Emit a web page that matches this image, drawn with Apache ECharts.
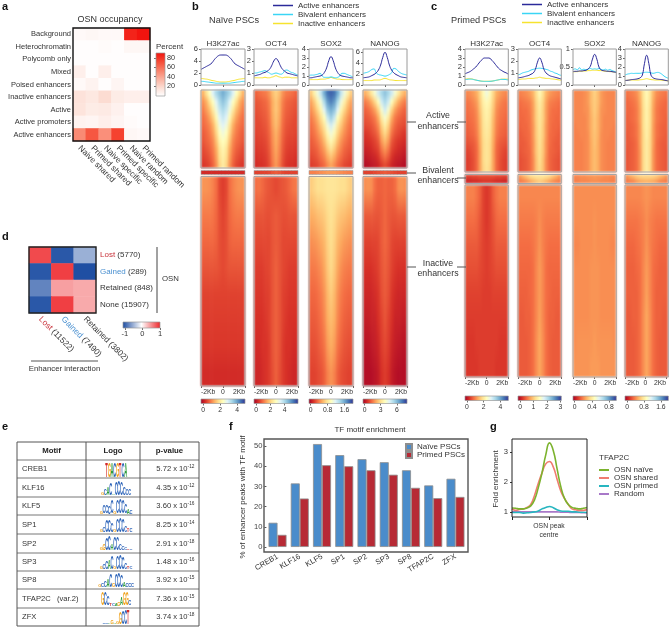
<!DOCTYPE html>
<html><head><meta charset="utf-8">
<style>html,body{margin:0;padding:0;background:#fff}#c{width:669px;height:627px;filter:blur(.3px)}
#c canvas[data-zr-dom-id="zr_1"]{filter:blur(.8px)}</style>
<script src="https://cdn.jsdelivr.net/npm/echarts@6/dist/echarts.min.js"></script>
</head><body><div id="c"></div>
<script>
const FONT='"Liberation Sans",Arial,sans-serif', INK='#333';
// ---- panel a
const occRows=['Background','Heterochromatin','Polycomb only','Mixed','Poised enhancers','Inactive enhancers','Active','Active promoters','Active enhancers'];
const occCols=['Naive shared','Primed shared','Naive specific','Primed specific','Naive random','Primed random'];
const occVals=[[3,4,3,3,85,92],[1,1,2,1,4,4],[1,1,1,1,1,1],[8,1,8,1,1,1],[3,6,1,5,1,1],[15,12,18,10,8,8],[14,10,11,7,1,1],[6,5,8,5,2,1],[50,68,48,75,4,3]];
const occTicks=[20,40,60,80];
// ---- panel d
const dRows=['{l|Lost} (5770)','{g|Gained} (289)','Retained (848)','None (15907)'];
const dCols=['{l|Lost} (11522)','{g|Gained} (7490)','Retained (3802)'];
const dVals=[[0.85,-0.95,-0.45],[-0.95,0.9,-1],[-0.7,0.45,0.4],[-0.95,0.9,0.4]];
// ---- panel e
const motifs=['CREB1','KLF16','KLF5','SP1','SP2','SP3','SP8','TFAP2C   (var.2)','ZFX'];
const pMant=['5.72','4.35','3.60','8.25','2.91','1.48','3.92','7.36','3.74'];
const pExp=['-12','-12','-16','-14','-18','-16','-15','-15','-18'];
const logoSeq=['TGACGTCA','GCACACCCCCC','GCCCCGCCCCAC','GCCCCGCCCCTC','GGCCACCCCCTC','GCCACGCCCCTC','GCCACGCCCACCC','GCCTCAGAGGC','CCAGAGGCCT'];
const logoH=[[1,1,1,1,1,1,1,1],[.2,.45,.6,.85,.1,.9,1,.95,.6,.5,.45],[.15,.6,.6,.55,.95,.2,.9,1,.95,.7,.4,.3],[.15,.35,.85,.85,.7,.2,.95,1,.9,.5,.3,.25],[.2,.5,.8,1,.5,.95,.9,.5,.3,.15,.12,.1],[.15,.4,.6,.7,.95,.2,.95,1,.8,.45,.2,.15],[.15,.3,.5,.6,.9,.3,.95,1,.85,.4,.25,.3,.25],[.9,.95,.7,.2,.15,.15,.3,.6,.9,.95,.4],[.05,.1,.1,.3,.1,.15,.8,.9,1,1]];
// ---- panel f
const tfNames=['CREB1','KLF16','KLF5','SP1','SP2','SP3','SP8','TFAP2C','ZFX'];
const tfNaive=[12,31.5,51,45.5,43.5,42,38,30.5,33.8];
const tfPrimed=[6,24,40.5,40,38,35.8,29.3,24.2,24.8];
const fTicks=[0,10,20,30,40,50];
// ---- panel g
const gNaive=[1.13,1.12,1.1,1.1,1.13,1.2,1.4,1.8,2.3,2.9,3.3,3.05,2.45,1.85,1.45,1.25,1.15,1.12,1.1,1.12,1.15];
const gShared=[1.1,1.05,1.08,1.1,1.15,1.25,1.55,1.95,2.3,2.6,2.68,2.5,2.1,1.7,1.45,1.25,1.1,1.07,1.05,1.05,1.08];
const gPrimed=[.98,.98,.98,.96,.97,.98,1,1.03,1.1,1.15,1.18,1.14,1.07,1.03,1.02,1.02,1,1,.99,.99,.98];
const gRandom=[1,1,1,1,1,1,1,1,1,1,1,1,1,.99,.99,.99,.98,.98,.98,.97,.97];
// ---- profile lines: [active, bivalent, inactive]
const profNaiveH3=[[2.6,2.8,3,3.2,3.4,3.7,4.2,4.6,4.9,5,5,5,4.9,4.6,4.2,3.7,3.4,3.2,3,2.8,2.6],[.6,.6,.55,.5,.45,.4,.35,.3,.3,.3,.3,.3,.3,.3,.35,.4,.45,.5,.55,.6,.6],[1.1,1.05,1,.95,.85,.75,.7,.6,.55,.5,.5,.5,.55,.6,.7,.75,.85,.95,1,1.05,1.1]];
const profNaiveOCT4=[[.75,.8,.85,.9,1,1.05,1.15,1.3,1.6,2,2.2,2,1.6,1.3,1.15,1,.95,.9,.85,.8,.75],[1,1,1.05,1.1,1.15,1.2,1.1,1,.9,.95,1,.95,.9,.95,1.2,1.25,1.15,1.05,1,.9,.85],[.6,.6,.6,.6,.6,.65,.6,.6,.65,.7,.78,.7,.65,.6,.65,.65,.65,.6,.6,.6,.6]];
const profNaiveSOX2=[[.8,.8,.85,.9,.95,1,1.1,1.4,1.9,2.7,3.15,2.7,1.9,1.4,1.1,1,.95,.9,.85,.8,.8],[1.05,1.1,1.1,1.15,1.2,1.3,1,.85,.85,.85,.9,.85,.8,.85,1,1.3,1.3,1.2,1.1,1,.9],[.6,.6,.6,.6,.6,.65,.65,.65,.7,.75,.85,.75,.7,.65,.65,.6,.6,.6,.6,.6,.6]];
const profNaiveNANOG=[[1.3,1.35,1.4,1.5,1.7,1.9,2.2,2.7,3.6,5,5.9,5,3.6,2.7,2.2,1.9,1.7,1.5,1.4,1.35,1.3],[2.1,2.2,2.3,2.5,2.8,2.9,2.2,1.9,1.8,1.7,1.6,1.7,1.9,2.2,3,2.9,2.5,2.2,2,1.9,1.8],[.8,.8,.8,.8,.8,.9,.9,.9,.95,1.1,1.2,1.1,.95,.9,.85,.8,.8,.8,.8,.8,.8]];
const profPrimedH3=[[1.25,1.35,1.45,1.6,1.8,2,2.3,2.6,2.85,3,3,3,2.85,2.6,2.3,2,1.75,1.6,1.45,1.35,1.2],[.6,.62,.65,.65,.6,.55,.5,.45,.42,.4,.4,.4,.42,.45,.5,.55,.6,.62,.62,.6,.55],[.65,.68,.7,.68,.62,.55,.5,.45,.42,.42,.42,.42,.42,.45,.5,.55,.6,.65,.65,.65,.65]];
const profPrimedOCT4=[[.6,.62,.65,.7,.75,.8,.9,1,1.3,1.9,2.25,1.9,1.3,1,.85,.75,.7,.65,.6,.55,.5],[.85,.9,1,1.05,1.1,1.15,1.25,1.3,1.35,1.38,1.4,1.38,1.35,1.3,1.25,1.15,1.1,1,.95,.85,.8],[.45,.47,.5,.5,.52,.55,.55,.55,.58,.6,.65,.6,.58,.55,.55,.52,.5,.48,.45,.42,.4]];
const profPrimedSOX2=[[.37,.38,.38,.39,.39,.4,.41,.45,.52,.72,.85,.72,.5,.42,.4,.39,.38,.38,.37,.36,.35],[.42,.45,.42,.48,.42,.44,.42,.44,.46,.44,.45,.44,.46,.43,.42,.44,.41,.43,.4,.38,.36],[.36,.37,.37,.38,.38,.39,.39,.4,.4,.41,.41,.41,.4,.4,.39,.38,.38,.37,.37,.36,.35]];
const profPrimedNANOG=[[.5,.52,.55,.6,.62,.65,.7,.8,1.1,2.4,3.3,2.4,1.1,.8,.7,.65,.62,.6,.55,.5,.45],[1.1,1.2,1.25,1.3,1.28,1.3,1.3,1.3,1.35,1.4,1.42,1.4,1.35,1.3,1.35,1.4,1.35,1.2,1,.85,.75],[.5,.52,.55,.55,.55,.55,.55,.58,.6,.65,.7,.65,.6,.58,.55,.55,.55,.52,.5,.48,.45]];
const hNaiveH3Act=[[3,4,5,6,7,7.5,8,7.5,7,6,5,4,3],[2.5,3,4,5,6,7,7.5,7,6,5,4,3,2.5],[2.2,2.7,3.3,4.3,5.5,6.5,7,6.5,5.5,4.3,3.3,2.7,2.2],[2,2.3,2.8,3.6,4.8,6,6.5,6,4.8,3.6,2.8,2.3,2],[1.9,2.1,2.4,3,4.2,5.5,6,5.5,4.2,3,2.4,2.1,1.9],[1.7,1.9,2.2,2.7,3.8,5,5.5,5,3.8,2.7,2.2,1.9,1.7],[1.6,1.8,2,2.4,3.4,4.6,5,4.6,3.4,2.4,2,1.8,1.6],[1.4,1.6,1.8,2.2,3,4.2,4.7,4.2,3,2.2,1.8,1.6,1.4],[1.3,1.4,1.6,2,2.8,4,4.5,4,2.8,2,1.6,1.4,1.3],[1.1,1.2,1.4,1.8,2.6,3.8,4.4,3.8,2.6,1.8,1.4,1.2,1.1]];
const hNaiveOCT4Act=[[1.8,2,2.1,2.2,2.6,3.3,3.7,3.3,2.6,2.2,2.1,2,1.8],[1.6,1.7,1.8,1.9,2.3,3,3.5,3,2.3,1.9,1.8,1.7,1.6],[1.5,1.6,1.7,1.8,2.2,3,3.5,3,2.2,1.8,1.7,1.6,1.5],[1.4,1.5,1.6,1.7,2.1,2.9,3.4,2.9,2.1,1.7,1.6,1.5,1.4],[1.4,1.4,1.5,1.6,2,2.8,3.3,2.8,2,1.6,1.5,1.4,1.4],[1.3,1.4,1.4,1.5,1.9,2.6,3.1,2.6,1.9,1.5,1.4,1.4,1.3],[1.2,1.3,1.3,1.4,1.8,2.5,3,2.5,1.8,1.4,1.3,1.3,1.2],[1.1,1.2,1.2,1.3,1.7,2.4,2.9,2.4,1.7,1.3,1.2,1.2,1.1],[1,1.1,1.1,1.2,1.6,2.3,2.8,2.3,1.6,1.2,1.1,1.1,1],[.9,1,1,1.1,1.5,2.2,2.7,2.2,1.5,1.1,1,1,.9]];
const hNaiveSOX2Act=[[3.5,4.5,5.5,6.5,8,9,9.3,9,8,6.5,5.5,4.5,3.5],[2.8,3.5,4.5,5.5,7,8.3,8.8,8.3,7,5.5,4.5,3.5,2.8],[2.5,3,3.8,4.7,6,7.5,8,7.5,6,4.7,3.8,3,2.5],[2.2,2.6,3.2,4,5,6.5,7.3,6.5,5,4,3.2,2.6,2.2],[2,2.3,2.8,3.5,4.3,5.5,6.3,5.5,4.3,3.5,2.8,2.3,2],[1.9,2.1,2.5,3,3.8,4.8,5.5,4.8,3.8,3,2.5,2.1,1.9],[1.7,1.9,2.2,2.6,3.3,4.2,4.8,4.2,3.3,2.6,2.2,1.9,1.7],[1.6,1.7,1.9,2.3,2.8,3.6,4.2,3.6,2.8,2.3,1.9,1.7,1.6],[1.4,1.5,1.7,2,2.4,3,3.5,3,2.4,2,1.7,1.5,1.4],[1.2,1.3,1.4,1.7,2,2.5,2.9,2.5,2,1.7,1.4,1.3,1.2]];
const hNaiveNANOGAct=[[3,3.5,4.3,5.3,6.3,7,7.5,7,6.3,5.3,4.3,3.5,3],[2.2,2.5,3,3.8,5,6.3,7,6.3,5,3.8,3,2.5,2.2],[1.8,2,2.3,2.8,3.8,5.3,6.3,5.3,3.8,2.8,2.3,2,1.8],[1.6,1.7,1.9,2.2,3,4.4,5.3,4.4,3,2.2,1.9,1.7,1.6],[1.4,1.5,1.6,1.9,2.5,3.7,4.5,3.7,2.5,1.9,1.6,1.5,1.4],[1.1,1.2,1.4,1.6,2.1,3.2,3.9,3.2,2.1,1.6,1.4,1.2,1.1],[.9,1,1.1,1.3,1.7,2.7,3.3,2.7,1.7,1.3,1.1,1,.9],[.7,.8,.9,1.1,1.4,2.2,2.7,2.2,1.4,1.1,.9,.8,.7],[.5,.6,.7,.8,1.1,1.7,2.1,1.7,1.1,.8,.7,.6,.5],[.3,.4,.5,.6,.8,1.2,1.5,1.2,.8,.6,.5,.4,.3]];
const hNaiveH3Biv=[[.9,.9,.9,.9,.9,.9,.9,.9,.9,.9,.9,.9,.9]];
const hNaiveOCT4Biv=[[1.3,1.3,1.3,1.3,1.4,1.6,1.7,1.6,1.4,1.3,1.3,1.3,1.3]];
const hNaiveSOX2Biv=[[2.3,2.3,2.4,2.5,2.6,2.7,2.7,2.7,2.6,2.5,2.4,2.3,2.3]];
const hNaiveNANOGBiv=[[1.3,1.3,1.3,1.4,1.5,1.6,1.7,1.6,1.5,1.4,1.3,1.3,1.3]];
const hNaiveH3In=[[2.6,2.6,2.5,2.3,2,1.4,1.2,1.4,2,2.3,2.5,2.6,2.6],[2.2,2.2,2.2,2.1,1.9,1.5,1.3,1.5,1.9,2.1,2.2,2.2,2.2],[1.9,1.9,1.9,1.9,1.8,1.5,1.4,1.5,1.8,1.9,1.9,1.9,1.9],[1.6,1.6,1.6,1.6,1.6,1.5,1.4,1.5,1.6,1.6,1.6,1.6,1.6],[1.3,1.3,1.3,1.3,1.3,1.3,1.3,1.3,1.3,1.3,1.3,1.3,1.3],[1.2,1.2,1.2,1.2,1.2,1.2,1.2,1.2,1.2,1.2,1.2,1.2,1.2],[1.1,1.1,1.1,1.1,1.1,1.1,1.1,1.1,1.1,1.1,1.1,1.1,1.1],[.9,.9,.9,.9,.9,.9,.9,.9,.9,.9,.9,.9,.9]];
const hNaiveOCT4In=[[2,2.1,1.9,1.7,1.6,1.5,1.4,1.5,1.6,1.7,1.9,2.1,2.2],[1.6,1.6,1.6,1.5,1.5,1.6,1.7,1.6,1.5,1.5,1.6,1.6,1.6],[1.4,1.4,1.4,1.4,1.4,1.6,1.7,1.6,1.4,1.4,1.4,1.4,1.4],[1.2,1.2,1.2,1.3,1.4,1.6,1.8,1.6,1.4,1.3,1.2,1.2,1.2],[1.1,1.1,1.1,1.2,1.3,1.6,1.8,1.6,1.3,1.2,1.1,1.1,1.1],[1,1,1,1.1,1.3,1.6,1.8,1.6,1.3,1.1,1,1,1],[.9,.9,1,1,1.2,1.6,1.8,1.6,1.2,1,1,.9,.9],[.8,.8,.9,1,1.2,1.5,1.8,1.5,1.2,1,.9,.8,.8]];
const hNaiveSOX2In=[[3.6,3.8,4,4,4.1,4.2,4.2,4.2,4.1,4,4,3.8,3.6],[3,3.1,3.3,3.4,3.6,3.9,4.1,3.9,3.6,3.4,3.3,3.1,3],[2.5,2.6,2.7,2.9,3.2,3.7,4,3.7,3.2,2.9,2.7,2.6,2.5],[2.2,2.2,2.3,2.5,2.9,3.5,3.9,3.5,2.9,2.5,2.3,2.2,2.2],[1.9,1.9,2,2.2,2.6,3.2,3.6,3.2,2.6,2.2,2,1.9,1.9],[1.7,1.7,1.8,2,2.4,3,3.3,3,2.4,2,1.8,1.7,1.7],[1.5,1.5,1.6,1.8,2.1,2.7,3,2.7,2.1,1.8,1.6,1.5,1.5],[1.3,1.3,1.4,1.5,1.8,2.3,2.6,2.3,1.8,1.5,1.4,1.3,1.3]];
const hNaiveNANOGIn=[[2.5,2.6,2.5,2,1.8,1.8,1.9,1.8,1.8,2,2.5,2.6,2.5],[1.7,1.7,1.7,1.6,1.6,1.7,1.9,1.7,1.6,1.6,1.7,1.7,1.7],[1.3,1.3,1.3,1.3,1.4,1.7,1.9,1.7,1.4,1.3,1.3,1.3,1.3],[1,1,1,1.1,1.3,1.6,1.8,1.6,1.3,1.1,1,1,1],[.8,.8,.8,.9,1.1,1.5,1.7,1.5,1.1,.9,.8,.8,.8],[.6,.6,.7,.7,1,1.3,1.6,1.3,1,.7,.7,.6,.6],[.4,.4,.5,.6,.8,1.2,1.4,1.2,.8,.6,.5,.4,.4],[.3,.3,.3,.4,.6,1,1.2,1,.6,.4,.3,.3,.3]];
const hPrimedH3Act=[[2.4,2.5,2.7,3,3.8,4.8,5.5,4.8,3.8,3,2.7,2.5,2.4],[2.1,2.2,2.4,2.7,3.6,4.5,4.8,4.5,3.6,2.7,2.4,2.2,2.1],[2,2.1,2.2,2.5,3.4,4.3,4.6,4.3,3.4,2.5,2.2,2.1,2],[1.9,2,2.1,2.4,3.2,4.2,4.5,4.2,3.2,2.4,2.1,2,1.9],[1.8,1.9,2,2.3,3.1,4.1,4.4,4.1,3.1,2.3,2,1.9,1.8],[1.7,1.8,1.9,2.2,3,4,4.3,4,3,2.2,1.9,1.8,1.7],[1.5,1.6,1.7,2,2.9,3.9,4.2,3.9,2.9,2,1.7,1.6,1.5],[1.3,1.4,1.6,1.9,2.8,3.9,4.2,3.9,2.8,1.9,1.6,1.4,1.3],[1.2,1.3,1.5,1.9,2.8,3.9,4.2,3.9,2.8,1.9,1.5,1.3,1.2],[1.2,1.3,1.5,1.9,2.8,3.8,4.1,3.8,2.8,1.9,1.5,1.3,1.2]];
const hPrimedOCT4Act=[[2.3,2.4,2.5,2.7,3.1,4,4.8,4,3.1,2.7,2.5,2.4,2.3],[2,2.1,2.2,2.3,2.8,3.8,4.4,3.8,2.8,2.3,2.2,2.1,2],[1.9,2,2,2.2,2.7,3.7,4.3,3.7,2.7,2.2,2,2,1.9],[1.9,1.9,2,2.1,2.7,3.7,4.2,3.7,2.7,2.1,2,1.9,1.9],[1.8,1.9,1.9,2.1,2.6,3.6,4.2,3.6,2.6,2.1,1.9,1.9,1.8],[1.7,1.8,1.9,2,2.6,3.6,4.1,3.6,2.6,2,1.9,1.8,1.7],[1.7,1.7,1.8,2,2.5,3.5,4.1,3.5,2.5,2,1.8,1.7,1.7],[1.6,1.7,1.8,1.9,2.5,3.5,4,3.5,2.5,1.9,1.8,1.7,1.6],[1.5,1.6,1.7,1.9,2.4,3.4,4,3.4,2.4,1.9,1.7,1.6,1.5],[1.5,1.6,1.7,1.9,2.4,3.4,3.9,3.4,2.4,1.9,1.7,1.6,1.5]];
const hPrimedSOX2Act=[[2.4,2.4,2.4,2.5,2.7,3.3,3.7,3.3,2.7,2.5,2.4,2.4,2.4],[2.4,2.4,2.4,2.5,2.7,3.3,3.6,3.3,2.7,2.5,2.4,2.4,2.4],[2.4,2.4,2.4,2.5,2.6,3.2,3.6,3.2,2.6,2.5,2.4,2.4,2.4],[2.4,2.4,2.4,2.4,2.6,3.1,3.5,3.1,2.6,2.4,2.4,2.4,2.4],[2.3,2.4,2.4,2.4,2.6,3.1,3.5,3.1,2.6,2.4,2.4,2.4,2.3],[2.3,2.3,2.4,2.4,2.5,3.1,3.4,3.1,2.5,2.4,2.4,2.3,2.3],[2.3,2.3,2.3,2.4,2.5,3,3.4,3,2.5,2.4,2.3,2.3,2.3],[2.3,2.3,2.3,2.4,2.5,3,3.3,3,2.5,2.4,2.3,2.3,2.3],[2.3,2.3,2.3,2.4,2.5,3,3.3,3,2.5,2.4,2.3,2.3,2.3],[2.3,2.3,2.3,2.4,2.5,3,3.3,3,2.5,2.4,2.3,2.3,2.3]];
const hPrimedNANOGAct=[[2.1,2.2,2.3,2.5,3.1,4.2,4.8,4.2,3.1,2.5,2.3,2.2,2.1],[1.9,2,2.1,2.3,2.9,4.1,4.7,4.1,2.9,2.3,2.1,2,1.9],[1.9,1.9,2,2.2,2.8,4,4.6,4,2.8,2.2,2,1.9,1.9],[1.8,1.9,2,2.2,2.8,4,4.6,4,2.8,2.2,2,1.9,1.8],[1.8,1.8,1.9,2.1,2.7,4,4.5,4,2.7,2.1,1.9,1.8,1.8],[1.7,1.8,1.9,2.1,2.7,3.9,4.5,3.9,2.7,2.1,1.9,1.8,1.7],[1.7,1.7,1.8,2,2.7,3.9,4.4,3.9,2.7,2,1.8,1.7,1.7],[1.6,1.7,1.8,2,2.6,3.9,4.4,3.9,2.6,2,1.8,1.7,1.6],[1.6,1.7,1.8,2,2.6,3.9,4.4,3.9,2.6,2,1.8,1.7,1.6],[1.6,1.7,1.8,2,2.6,3.9,4.4,3.9,2.6,2,1.8,1.7,1.6]];
const hPrimedH3Biv=[[1.3,1.3,1.4,1.4,1.5,1.5,1.5,1.5,1.5,1.4,1.4,1.3,1.3],[.8,.8,.9,.9,1,1.1,1.1,1.1,1,.9,.9,.8,.8]];
const hPrimedOCT4Biv=[[2.6,3,3.4,3.8,4,4.2,4.2,4.2,4,3.8,3.4,3,2.6],[2.2,2.3,2.5,2.8,3.1,3.4,3.6,3.4,3.1,2.8,2.5,2.3,2.2]];
const hPrimedSOX2Biv=[[2.4,2.4,2.5,2.5,2.6,2.6,2.7,2.6,2.6,2.5,2.5,2.4,2.4],[2.3,2.3,2.4,2.4,2.4,2.5,2.5,2.5,2.4,2.4,2.4,2.3,2.3]];
const hPrimedNANOGBiv=[[2.6,2.9,3.2,3.5,3.7,3.8,3.8,3.8,3.7,3.5,3.2,2.9,2.6],[2.2,2.3,2.4,2.7,2.9,3,3.1,3,2.9,2.7,2.4,2.3,2.2]];
const hPrimedH3In=[[2.3,2.3,2.3,2.1,1.8,1.3,1.1,1.3,1.8,2.1,2.3,2.3,2.3],[2,2,2,1.9,1.6,1.3,1.1,1.3,1.6,1.9,2,2,2],[1.7,1.7,1.7,1.7,1.5,1.3,1.2,1.3,1.5,1.7,1.7,1.7,1.7],[1.5,1.5,1.5,1.5,1.4,1.3,1.2,1.3,1.4,1.5,1.5,1.5,1.5],[1.3,1.3,1.3,1.3,1.3,1.2,1.2,1.2,1.3,1.3,1.3,1.3,1.3],[1.2,1.2,1.2,1.2,1.2,1.2,1.2,1.2,1.2,1.2,1.2,1.2,1.2],[1.1,1.1,1.1,1.2,1.2,1.2,1.2,1.2,1.2,1.2,1.1,1.1,1.1],[1.1,1.1,1.1,1.1,1.2,1.2,1.2,1.2,1.2,1.1,1.1,1.1,1.1]];
const hPrimedOCT4In=[[2.4,2.4,2.4,2.4,2.4,2.4,2.4,2.4,2.4,2.4,2.4,2.4,2.4],[2.2,2.2,2.2,2.2,2.2,2.3,2.5,2.3,2.2,2.2,2.2,2.2,2.2],[2,2,2,2,2.1,2.3,2.6,2.3,2.1,2,2,2,2],[1.9,1.9,1.9,1.9,2,2.4,2.7,2.4,2,1.9,1.9,1.9,1.9],[1.8,1.8,1.8,1.9,2,2.4,2.7,2.4,2,1.9,1.8,1.8,1.8],[1.7,1.7,1.8,1.8,2,2.4,2.8,2.4,2,1.8,1.8,1.7,1.7],[1.7,1.7,1.7,1.8,2,2.5,2.9,2.5,2,1.8,1.7,1.7,1.7],[1.7,1.7,1.7,1.8,2,2.5,2.9,2.5,2,1.8,1.7,1.7,1.7]];
const hPrimedSOX2In=[[2.5,2.5,2.5,2.5,2.5,2.5,2.5,2.5,2.5,2.5,2.5,2.5,2.5],[2.5,2.5,2.5,2.5,2.5,2.5,2.6,2.5,2.5,2.5,2.5,2.5,2.5],[2.4,2.4,2.5,2.5,2.5,2.5,2.6,2.5,2.5,2.5,2.5,2.4,2.4],[2.5,2.5,2.5,2.5,2.5,2.6,2.6,2.6,2.5,2.5,2.5,2.5,2.5],[2.5,2.5,2.5,2.5,2.5,2.6,2.6,2.6,2.5,2.5,2.5,2.5,2.5],[2.5,2.5,2.5,2.5,2.5,2.6,2.6,2.6,2.5,2.5,2.5,2.5,2.5],[2.5,2.6,2.6,2.6,2.6,2.6,2.7,2.6,2.6,2.6,2.6,2.6,2.5],[2.6,2.6,2.6,2.6,2.6,2.7,2.7,2.7,2.6,2.6,2.6,2.6,2.6]];
const hPrimedNANOGIn=[[2.4,2.4,2.4,2.4,2.4,2.5,2.6,2.5,2.4,2.4,2.4,2.4,2.4],[2.1,2.1,2.1,2.1,2.2,2.3,2.5,2.3,2.2,2.1,2.1,2.1,2.1],[1.9,1.9,1.9,2,2.1,2.3,2.6,2.3,2.1,2,1.9,1.9,1.9],[1.8,1.8,1.8,1.9,2,2.4,2.7,2.4,2,1.9,1.8,1.8,1.8],[1.8,1.8,1.8,1.8,2,2.4,2.8,2.4,2,1.8,1.8,1.8,1.8],[1.7,1.7,1.8,1.8,2,2.5,2.9,2.5,2,1.8,1.8,1.7,1.7],[1.7,1.7,1.7,1.8,2,2.5,2.9,2.5,2,1.8,1.7,1.7,1.7],[1.7,1.7,1.7,1.8,2,2.5,2.9,2.5,2,1.8,1.7,1.7,1.7]];
const kbTicks=['-2Kb','0','2Kb'];
const lineNames=['Active enhancers','Bivalent enhancers','Inactive enhancers'];
const lineColors=['#2b2a9a','#3ad5f5','#f6e32e'];
const RDYLBU=['#a50026','#d73027','#f46d43','#fdae61','#fee090','#ffffbf','#e0f3f8','#abd9e9','#74add1','#4575b4','#313695'];

const grid=[],xAxis=[],yAxis=[],series=[],graphic=[];
const txt=(x,y,s,o={})=>graphic.push({type:'text',x,y,silent:true,zlevel:2,style:Object.assign({text:s,fontFamily:FONT,fontSize:8,fill:INK,textAlign:'left',textVerticalAlign:'middle'},o)});
const seg=(x1,y1,x2,y2,c='#555',w=1)=>graphic.push({type:'line',silent:true,z:50,zlevel:2,shape:{x1,y1,x2,y2},style:{stroke:c,lineWidth:w}});
const frame=(r,c,w)=>graphic.push({type:'rect',silent:true,z:50,zlevel:2,shape:{x:r[0],y:r[1],width:r[2],height:r[3]},style:{fill:'none',stroke:c,lineWidth:w}});
function addGrid(r,x,y){
  grid.push({left:r[0],top:r[1],width:r[2],height:r[3]});
  const i=grid.length-1;
  xAxis.push(Object.assign({gridIndex:i,show:false},x));
  yAxis.push(Object.assign({gridIndex:i,show:false},y));
  return i;
}
const seqOf=n=>Array.from({length:n},(_,i)=>i);
const axisTxt=(o={})=>Object.assign({color:INK,fontFamily:FONT,fontSize:7.2},o);

function gradientBar(r,colors,vertical,axis){
  const va={type:'value',show:true,min:axis.min,max:axis.max,axisLine:{show:false},splitLine:{show:false},
    axisTick:{show:true,length:2,lineStyle:{color:'#333',width:.7},customValues:axis.ticks},
    axisLabel:axisTxt({customValues:axis.ticks,margin:axis.margin||3,fontSize:axis.size||7.2})};
  const other={type:'value',min:0,max:1};
  const i=vertical?addGrid(r,other,Object.assign(va,{position:'right',axisTick:Object.assign(va.axisTick,{inside:true})})):addGrid(r,va,other);
  series.push({type:'custom',xAxisIndex:i,yAxisIndex:i,silent:true,data:[[0]],clip:false,
    renderItem:(p)=>({type:'rect',shape:{x:p.coordSys.x,y:p.coordSys.y,width:p.coordSys.width,height:p.coordSys.height},
      style:{fill:new echarts.graphic.LinearGradient(0,vertical?1:0,vertical?0:1,0,colors.map((c,k)=>({offset:k/(colors.length-1),color:c})))}})});
  frame(r,'#999',.7);
}
function heatBlock(r,rows,zl=1,fw=1){
  const nr=rows.length,nc=rows[0].length;
  const i=addGrid(r,{type:'value',min:0,max:nc},{type:'value',min:0,max:1,inverse:true});
  const colour=v=>echarts.color.lerp(v/10,RDYLBU);
  series.push({type:'custom',zlevel:zl,xAxisIndex:i,yAxisIndex:i,silent:true,clip:false,encode:{x:0},
    data:seqOf(nc).map(c=>[c]),
    renderItem:(p,api)=>{
      const c=api.value(0), a=api.coord([c,0]), b=api.coord([c+1,1]);
      const stops=[{offset:0,color:colour(rows[0][c])}];
      rows.forEach((row,k)=>stops.push({offset:(k+.5)/nr,color:colour(row[c])}));
      stops.push({offset:1,color:colour(rows[nr-1][c])});
      return {type:'rect',shape:{x:a[0],y:a[1],width:b[0]-a[0]+(c<nc-1?.7:0),height:b[1]-a[1]},
        style:{fill:new echarts.graphic.LinearGradient(0,0,0,1,stops)}};
    }});
  frame(r,'#a5a5a5',fw);
}
function profile(r,title,ys,ymax,ticks){
  const n=ys[0].length;
  const i=addGrid(r,{type:'category',show:true,boundaryGap:false,data:seqOf(n),axisLine:{show:false},axisLabel:{show:false},
      axisTick:{show:true,length:2,interval:k=>k===10,lineStyle:{color:'#666'}}},
    {type:'value',show:true,min:0,max:ymax,splitLine:{show:false},axisLine:{show:false},
      axisTick:{show:true,length:2,lineStyle:{color:'#666'},customValues:ticks},
      axisLabel:axisTxt({customValues:ticks,margin:3,fontSize:7.5})});
  [2,1,0].forEach(k=>series.push({type:'line',name:lineNames[k],xAxisIndex:i,yAxisIndex:i,data:ys[k],showSymbol:false,smooth:true,silent:true,
    lineStyle:{color:lineColors[k],width:1},itemStyle:{color:lineColors[k]}}));
  frame(r,'#9a9a9a',1);
  txt(r[0]+r[2]/2,r[1]-5,title,{textAlign:'center',fontSize:8});
}
function kbAxis(r){
  addGrid(r,{type:'value',show:true,min:-2,max:2,interval:2,axisLine:{show:false},splitLine:{show:false},
    axisTick:{show:true,length:2,lineStyle:{color:'#666'}},
    axisLabel:axisTxt({margin:3,fontSize:6.8,alignMinLabel:'left',alignMaxLabel:'right',formatter:v=>kbTicks[(v+2)/2]})},{type:'value',min:0,max:1});
}
const panelB={active:[90,78],biv:[170.5,4],inact:[176.5,209.5],prof:[49,36],bar:[399,4.5],bivZ:0,bivW:.6};
const panelC={active:[90,82],biv:[174.5,9],inact:[185,192],prof:[49,36],bar:[396,4.5],bivZ:1,bivW:1};
const colsB=[
 {x:201,t:'H3K27ac',p:profNaiveH3,m:6,k:[0,2,4,6],a:hNaiveH3Act,b:hNaiveH3Biv,i:hNaiveH3In,bar:{min:-.24,max:4.94,ticks:[0,2,4]}},
 {x:254,t:'OCT4',p:profNaiveOCT4,m:3,k:[0,1,2,3],a:hNaiveOCT4Act,b:hNaiveOCT4Biv,i:hNaiveOCT4In,bar:{min:-.32,max:5.9,ticks:[0,2,4,6]}},
 {x:309,t:'SOX2',p:profNaiveSOX2,m:4,k:[0,1,2,3,4],a:hNaiveSOX2Act,b:hNaiveSOX2Biv,i:hNaiveSOX2In,bar:{min:-.08,max:2,ticks:[0,.8,1.6]}},
 {x:363,t:'NANOG',p:profNaiveNANOG,m:6.5,k:[0,2,4,6],a:hNaiveNANOGAct,b:hNaiveNANOGBiv,i:hNaiveNANOGIn,bar:{min:-.3,max:7.9,ticks:[0,3,6]}}];
const colsC=[
 {x:465,t:'H3K27ac',p:profPrimedH3,m:4,k:[0,1,2,3,4],a:hPrimedH3Act,b:hPrimedH3Biv,i:hPrimedH3In,bar:{min:-.24,max:4.96,ticks:[0,2,4]}},
 {x:518,t:'OCT4',p:profPrimedOCT4,m:3,k:[0,1,2,3],a:hPrimedOCT4Act,b:hPrimedOCT4Biv,i:hPrimedOCT4In,bar:{min:-.15,max:3.06,ticks:[0,1,2,3]}},
 {x:573,t:'SOX2',p:profPrimedSOX2,m:1,k:[0,.5,1],a:hPrimedSOX2Act,b:hPrimedSOX2Biv,i:hPrimedSOX2In,bar:{min:-.04,max:.97,ticks:[0,.4,.8]}},
 {x:625,t:'NANOG',p:profPrimedNANOG,m:4,k:[0,1,2,3,4],a:hPrimedNANOGAct,b:hPrimedNANOGBiv,i:hPrimedNANOGIn,bar:{min:-.1,max:1.95,ticks:[0,.8,1.6]}}];
function buildCols(cols,P,w){
  cols.forEach(c=>{
    profile([c.x,P.prof[0],w,P.prof[1]],c.t,c.p,c.m,c.k);
    heatBlock([c.x,P.active[0],w,P.active[1]],c.a);
    heatBlock([c.x,P.biv[0],w,P.biv[1]],c.b,P.bivZ,P.bivW);
    heatBlock([c.x,P.inact[0],w,P.inact[1]],c.i);
    kbAxis([c.x,P.inact[0],w,P.inact[1]]);
    gradientBar([c.x,P.bar[0],w,P.bar[1]],RDYLBU,false,Object.assign({margin:3,size:6.8},c.bar));
  });
}
buildCols(colsB,panelB,44);
buildCols(colsC,panelC,43.3);

// ---- panel a heatmap
{
  const r=[73,28,77,113];
  const i=addGrid(r,{type:'category',show:true,data:occCols,axisLine:{show:false},axisTick:{show:false},
      axisLabel:axisTxt({rotate:-45,fontSize:8.2,margin:6,interval:0})},
    {type:'category',show:true,data:occRows,inverse:true,axisLine:{show:false},axisTick:{show:false},
      axisLabel:axisTxt({fontSize:7.5,margin:2,interval:0})});
  const d=[];occVals.forEach((row,ri)=>row.forEach((v,ci)=>d.push([ci,ri,v])));
  series.push({type:'heatmap',xAxisIndex:i,yAxisIndex:i,data:d,silent:true,itemStyle:{borderWidth:0}});
  var occSeries=series.length-1;
  frame(r,'#111',1.4);
  gradientBar([156,53,9,43],['#ffffff','#fcdcd2','#fbb09e','#f97f68','#f54b36','#f2140f'],true,{min:-1.4,max:90.7,ticks:occTicks,size:7.2,margin:2});
}
// ---- panel d heatmap
{
  const r=[29,247,67,66];
  const i=addGrid(r,{type:'category',show:true,data:dCols,axisLine:{show:false},axisTick:{show:false},
      axisLabel:axisTxt({rotate:-45,fontSize:8.3,margin:5,interval:0,rich:{l:{color:'#c8323a',fontSize:8.3},g:{color:'#4a90d0',fontSize:8.3}}})},
    {type:'category',show:true,data:dRows,inverse:true,position:'right',axisLine:{show:false},axisTick:{show:false},
      axisLabel:axisTxt({fontSize:8,margin:4,interval:0,rich:{l:{color:'#c8323a',fontSize:8},g:{color:'#4a90d0',fontSize:8}}})});
  const d=[];dVals.forEach((row,ri)=>row.forEach((v,ci)=>d.push([ci,ri,v])));
  series.push({type:'heatmap',xAxisIndex:i,yAxisIndex:i,data:d,silent:true,itemStyle:{borderWidth:0}});
  var dSeries=series.length-1;
  frame(r,'#222',1.4);
  gradientBar([123,322,37,6],['#1f4fa3','#ffffff','#ee2a2e'],false,{min:-1.1,max:1,ticks:[-1,0,1],size:7.5,margin:2});
  seg(157,247,157,313,'#444',1);
  txt(162,279,'OSN',{fontSize:7.8});
  seg(31,361,98,361,'#555',1);
  txt(64.5,369,'Enhancer interaction',{textAlign:'center',fontSize:7.8});
}
// ---- panel e table
const rowLines=[442,460,478,497,515,534,553,571,589,608,626];
const colLines=[17,86,140,199];
{
  rowLines.forEach((y,k)=>seg(17,y,199,y,k===0||k===10?'#555':'#777',1));
  colLines.forEach(x=>seg(x,442,x,626,'#555',1));
  txt(51.5,451,'Motif',{fontWeight:'bold',textAlign:'center',fontSize:7.8,fill:'#222'});
  txt(113,451,'Logo',{fontWeight:'bold',textAlign:'center',fontSize:7.8,fill:'#222'});
  txt(169.5,451,'p-value',{fontWeight:'bold',textAlign:'center',fontSize:7.8,fill:'#222'});
  motifs.forEach((m,k)=>{
    const y=(rowLines[k+1]+rowLines[k+2])/2;
    txt(22,y,m,{fontSize:7.6});
    graphic.push({type:'text',silent:true,zlevel:2,x:194.5,y:y,style:{text:'{v|'+pMant[k]+' x 10}{s|'+pExp[k]+'}',textAlign:'right',textVerticalAlign:'middle',fill:INK,
      rich:{v:{fontFamily:FONT,fontSize:7.6,fill:INK,color:INK},s:{fontFamily:FONT,fontSize:4.8,fill:INK,color:INK,padding:[0,0,4,0]}}}});
  });
  const LC={A:'#2e9d3a',C:'#2a62b8',G:'#efa21d',T:'#d42a2a'};
  const i=addGrid([97,460.5,38,165.5],{type:'value',min:0,max:14},{type:'value',min:0,max:9,inverse:true});
  const d=[];
  logoSeq.forEach((s,row)=>{const off=(14-s.length)/2;s.split('').forEach((ch,p)=>d.push([off+p,row,logoH[row][p]]));});
  series.push({type:'custom',xAxisIndex:i,yAxisIndex:i,silent:true,clip:false,data:d,encode:{x:0,y:1},
    renderItem:(p,api)=>{
      const pos=api.coord([api.value(0),api.value(1)+1]);
      const w=api.size([1,0])[0], H=api.value(2)*14;
      const ch=logoSeq[api.value(1)][api.value(0)-(14-logoSeq[api.value(1)].length)/2];
      const sy=Math.max(H,.5)/7.16;
      return {type:'text',x:pos[0],y:pos[1]-2+2.1*sy,scaleX:(w*1.1)/7.2,scaleY:sy,silent:true,
        style:{text:ch,fill:LC[ch],fontFamily:FONT,fontSize:10,fontWeight:'bold',textAlign:'left',textVerticalAlign:'bottom'}};
    }});
}
// ---- panel f
{
  const i=addGrid([266.4,439,200.2,113],{type:'category',show:true,data:tfNames,axisLine:{show:false},
      axisTick:{show:false},axisLabel:axisTxt({rotate:30,fontSize:7.6,margin:4,interval:0})},
    {type:'value',show:true,min:-2.5,max:53.5,splitLine:{show:false},axisLine:{show:false},
      axisTick:{show:true,length:2,lineStyle:{color:'#555'},customValues:fTicks},
      axisLabel:axisTxt({customValues:fTicks,fontSize:7.6,margin:4,color:'#444'})});
  const bs={borderColor:'#8e8e8e',borderWidth:.8};
  series.push({type:'bar',name:'Naïve PSCs',xAxisIndex:i,yAxisIndex:i,data:tfNaive,barWidth:9,barGap:'0%',silent:true,itemStyle:Object.assign({color:'#4a8ccb'},bs)});
  series.push({type:'bar',name:'Primed PSCs',xAxisIndex:i,yAxisIndex:i,data:tfPrimed,barWidth:9,silent:true,itemStyle:Object.assign({color:'#b72a35'},bs)});
  frame([264,439,204,113],'#555',1.4);
  txt(370,430,'TF motif enrichment',{textAlign:'center',fontSize:8});
  graphic.push({type:'text',silent:true,zlevel:2,x:243,y:497,rotation:Math.PI/2,style:{text:'% of enhancer peaks with TF motif',fontFamily:FONT,fontSize:8,fill:INK,textAlign:'center',textVerticalAlign:'middle'}});
}
// ---- panel g
{
  const r=[512,439,75,78];
  const i=addGrid(r,{type:'category',show:true,boundaryGap:false,data:seqOf(21),axisLine:{show:false},axisLabel:{show:false},
      axisTick:{show:true,length:3,interval:k=>k%10===0,lineStyle:{color:'#222'}}},
    {type:'value',show:true,min:.83,max:3.43,splitLine:{show:false},axisLine:{show:false},
      axisTick:{show:true,length:2,lineStyle:{color:'#333'},customValues:[1,2,3]},
      axisLabel:axisTxt({customValues:[1,2,3],fontSize:7.6,margin:4})});
  [['Random',gRandom,'#a878c8'],['OSN primed',gPrimed,'#28b6c0'],['OSN shared',gShared,'#f07c70'],['OSN naïve',gNaive,'#7cb32e']].forEach(s=>
    series.push({type:'line',name:s[0],xAxisIndex:i,yAxisIndex:i,data:s[1],smooth:true,showSymbol:false,silent:true,lineStyle:{color:s[2],width:1.6},itemStyle:{color:s[2]}}));
  frame(r,'#222',1);
  txt(549,526,'OSN peak',{textAlign:'center',fontSize:6.8});
  txt(549,535,'centre',{textAlign:'center',fontSize:6.8});
  graphic.push({type:'text',silent:true,zlevel:2,x:496,y:479,rotation:Math.PI/2,style:{text:'Fold enrichment',fontFamily:FONT,fontSize:8,fill:INK,textAlign:'center',textVerticalAlign:'middle'}});
  txt(599,458,'TFAP2C',{fontSize:8});
}
// ---- free text
[['a',2,7],['b',192,7],['c',431,7],['d',2,237],['e',2,427],['f',229,427],['g',490,427]].forEach(a=>txt(a[1],a[2],a[0],{fontWeight:'bold',fontSize:11,fill:'#111'}));
txt(110,20,'OSN occupancy',{textAlign:'center',fontSize:9});
txt(156,47,'Percent',{fontSize:7.9});
txt(209,20,'Naïve PSCs',{fontSize:9.2});
txt(451,20,'Primed PSCs',{fontSize:9.2});
const sideLabels=[['Active',116],['enhancers',127],['Bivalent',171],['enhancers',181],['Inactive',264],['enhancers',274]];
sideLabels.forEach(s=>txt(438,s[1],s[0],{textAlign:'center',fontSize:8.8}));
[[122,122],[173,178],[267,267]].forEach(y=>{seg(407,y[0],416,y[0],'#555',1);seg(457,y[1],466,y[1],'#555',1);});

const lg=(left,top,names,extra)=>Object.assign({left,top,orient:'vertical',data:names,selectedMode:false,icon:'rect',itemWidth:20,itemHeight:1.5,itemGap:0,padding:0,
  textStyle:{fontFamily:FONT,fontSize:8,color:INK,lineHeight:9,height:9}},extra);
const option={animation:false,backgroundColor:'#fff',textStyle:{fontFamily:FONT},grid,xAxis,yAxis,series,
  graphic:{elements:graphic},
  legend:[lg(273,1,lineNames),lg(522,0,lineNames),
    lg(405,443,['Naïve PSCs','Primed PSCs'],{itemWidth:6,itemHeight:6,itemGap:0,textStyle:{fontFamily:FONT,fontSize:8,color:INK,lineHeight:8,height:8}}),
    lg(599,466,['OSN naïve','OSN shared','OSN primed','Random'],{itemWidth:10,itemHeight:2,itemGap:0,textStyle:{fontFamily:FONT,fontSize:8,color:INK,lineHeight:7.7,height:7.7}})],
  visualMap:[
   {type:'continuous',show:false,seriesIndex:occSeries,dimension:2,min:0,max:90,inRange:{color:['#ffffff','#fcdcd2','#fbb09e','#f97f68','#f54b36','#f2140f']}},
   {type:'continuous',show:false,seriesIndex:dSeries,dimension:2,min:-1,max:1,inRange:{color:['#1f4fa3','#ffffff','#ee2a2e']}}]};
const chart=echarts.init(document.getElementById('c'),null,{renderer:'canvas'});
chart.setOption(option);
</script></body></html>
